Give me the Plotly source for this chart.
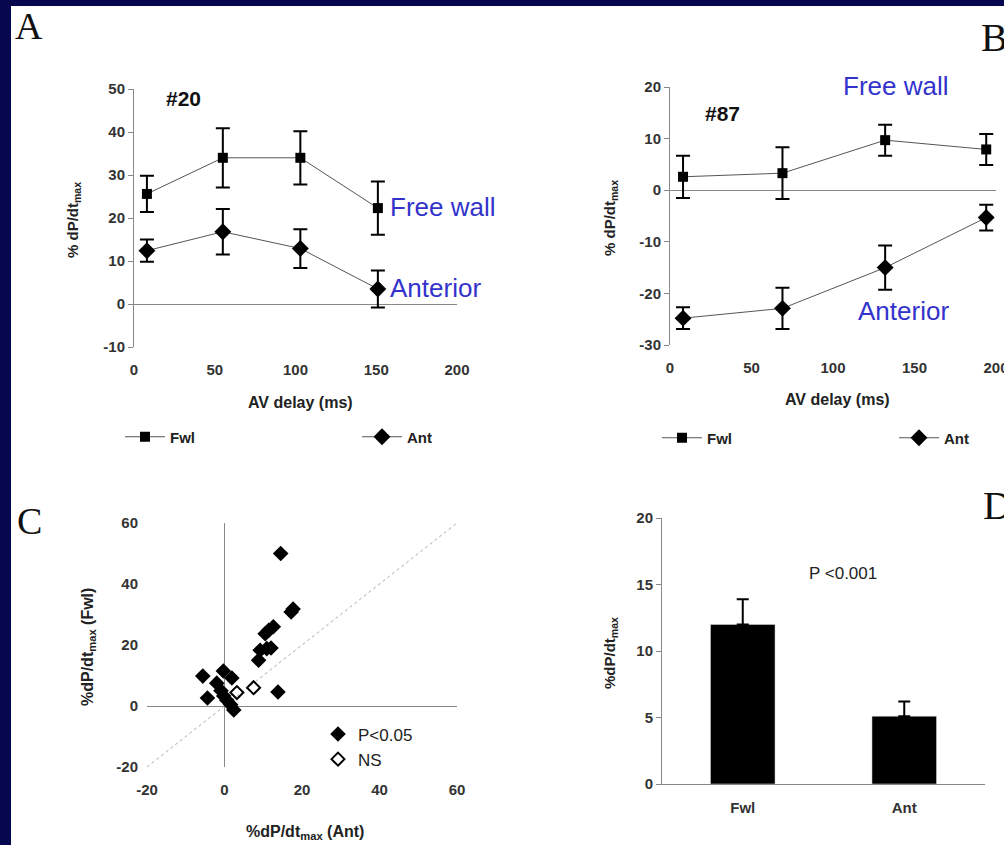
import plotly.graph_objects as go

# ---------------- data ----------------
# Panel A (#20)
A_delay = [8, 55, 103, 151]
A_fwl = [25.6, 34.0, 34.0, 22.3]
A_fwl_err = [4.2, 6.9, 6.2, 6.2]
A_ant = [12.4, 16.8, 12.9, 3.5]
A_ant_err = [2.6, 5.3, 4.5, 4.3]
A_yticks = [-10, 0, 10, 20, 30, 40, 50]

# Panel B (#87)
B_delay = [8, 69, 132, 194]
B_fwl = [2.6, 3.3, 9.7, 7.9]
B_fwl_err = [4.1, 5.0, 3.0, 3.0]
B_ant = [-24.8, -22.9, -15.0, -5.3]
B_ant_err = [2.1, 4.0, 4.3, 2.5]
B_yticks = [-30, -20, -10, 0, 10, 20]

AV_ticks = [0, 50, 100, 150, 200]

# Panel C scatter (Ant on x, Fwl on y)
C_sig_ant = [14.5, 17.2, 17.7, 11.4, 12.6, 10.5, 9.2, 10.9, 8.8, 12.0, 13.8,
             -5.6, -4.4, -0.3, 1.9, -2.0, -0.9, -0.2, 0.6, 1.6, 2.4]
C_sig_fwl = [50.0, 30.8, 31.8, 24.8, 26.0, 23.7, 18.3, 18.8, 15.0, 19.0, 4.6,
             9.8, 2.6, 11.5, 9.2, 7.5, 5.0, 3.3, 1.9, 0.4, -1.3]
C_ns_ant = [7.5, 3.2]
C_ns_fwl = [6.0, 4.4]
C_identity = [-20, 60]
C_ticks = [-20, 0, 20, 40, 60]

# Panel D bars
D_cats = ["Fwl", "Ant"]
D_vals = [12.0, 5.1]
D_err = [1.9, 1.1]

# ---------------- helpers ----------------
W, H = 1004, 845


def px(x):
    return x / W


def py(y):
    return 1 - y / H


def labels(vals):
    return [str(v) for v in vals]  # plain hyphen-minus, as in the original


FONT = "Liberation Sans, Arial, sans-serif"
SERIF = "Liberation Serif, Times New Roman, serif"
AX = "#888888"
TXT = "#333333"
BLUE = "#3333CC"
NAVY = "#07074F"
tickfont = dict(family=FONT, size=15, color=TXT, weight="bold")

fig = go.Figure()

# ---- Panel A ----
fig.add_trace(go.Scatter(
    x=A_delay, y=A_fwl, mode="lines+markers", name="Fwl",
    line=dict(color="#555555", width=1),
    marker=dict(symbol="square", size=10, color="black"),
    error_y=dict(type="data", array=A_fwl_err, color="black", thickness=2, width=7),
    xaxis="x", yaxis="y", legend="legend", cliponaxis=False))
fig.add_trace(go.Scatter(
    x=A_delay, y=A_ant, mode="lines+markers", name="Ant",
    line=dict(color="#555555", width=1),
    marker=dict(symbol="diamond", size=13, color="black"),
    error_y=dict(type="data", array=A_ant_err, color="black", thickness=2, width=7),
    xaxis="x", yaxis="y", legend="legend2", cliponaxis=False))

# ---- Panel B ----
fig.add_trace(go.Scatter(
    x=B_delay, y=B_fwl, mode="lines+markers", name="Fwl",
    line=dict(color="#555555", width=1),
    marker=dict(symbol="square", size=10, color="black"),
    error_y=dict(type="data", array=B_fwl_err, color="black", thickness=2, width=7),
    xaxis="x2", yaxis="y2", legend="legend3", cliponaxis=False))
fig.add_trace(go.Scatter(
    x=B_delay, y=B_ant, mode="lines+markers", name="Ant",
    line=dict(color="#555555", width=1),
    marker=dict(symbol="diamond", size=13, color="black"),
    error_y=dict(type="data", array=B_ant_err, color="black", thickness=2, width=7),
    xaxis="x2", yaxis="y2", legend="legend4", cliponaxis=False))

# ---- Panel C ----
fig.add_trace(go.Scatter(
    x=C_identity, y=C_identity, mode="lines", showlegend=False,
    line=dict(color="#AAAAAA", width=1, dash="dot"),
    xaxis="x3", yaxis="y3"))
fig.add_trace(go.Scatter(
    x=C_sig_ant, y=C_sig_fwl, mode="markers", name="P<0.05",
    marker=dict(symbol="diamond", size=12, color="black"),
    xaxis="x3", yaxis="y3", legend="legend5", cliponaxis=False))
fig.add_trace(go.Scatter(
    x=C_ns_ant, y=C_ns_fwl, mode="markers", name="NS",
    marker=dict(symbol="diamond-open", size=10, color="black", line=dict(width=2)),
    xaxis="x3", yaxis="y3", legend="legend5", cliponaxis=False))

# ---- Panel D ----
fig.add_trace(go.Bar(
    x=D_cats, y=D_vals, width=0.4, marker=dict(color="black"), showlegend=False,
    error_y=dict(type="data", array=D_err, arrayminus=[0] * len(D_err), symmetric=False,
                 color="black", thickness=2, width=6),
    xaxis="x4", yaxis="y4"))

# ---------------- axes ----------------
common_x = dict(showgrid=False, zeroline=False, showline=False, ticks="",
                tickfont=tickfont, ticklabeloverflow="allow")

fig.update_layout(
    xaxis=dict(common_x, domain=[px(134), px(457)], range=[0, 200],
               tickvals=AV_ticks, ticktext=labels(AV_ticks), anchor="y",
               ticklabelstandoff=12),
    yaxis=dict(domain=[py(347), py(89)], range=[-10, 50], anchor="x",
               tickvals=A_yticks, ticktext=labels(A_yticks),
               showgrid=False, showline=True, linecolor=AX, linewidth=1,
               ticks="outside", ticklen=5, tickcolor=AX, tickfont=tickfont,
               zeroline=True, zerolinecolor=AX, zerolinewidth=1),
    xaxis2=dict(common_x, domain=[px(670), px(996)], range=[0, 200],
                tickvals=AV_ticks, ticktext=labels(AV_ticks), anchor="y2",
                ticklabelstandoff=12),
    yaxis2=dict(domain=[py(345), py(87)], range=[-30, 20], anchor="x2",
                tickvals=B_yticks, ticktext=labels(B_yticks),
                showgrid=False, showline=True, linecolor=AX, linewidth=1,
                ticks="outside", ticklen=5, tickcolor=AX, tickfont=tickfont,
                zeroline=True, zerolinecolor=AX, zerolinewidth=1),
    xaxis3=dict(domain=[px(147), px(457)], range=[-20, 60], anchor="y3",
                tickvals=C_ticks, ticktext=labels(C_ticks),
                showgrid=False, showline=False, ticks="", tickfont=tickfont,
                zeroline=True, zerolinecolor=AX, zerolinewidth=1, ticklabelstandoff=12),
    yaxis3=dict(domain=[py(767), py(523)], range=[-20, 60], anchor="x3",
                tickvals=C_ticks, ticktext=labels(C_ticks),
                showgrid=False, showline=False, ticks="", tickfont=tickfont,
                zeroline=True, zerolinecolor=AX, zerolinewidth=1, ticklabelstandoff=8),
    xaxis4=dict(domain=[px(662), px(985)], anchor="y4", showgrid=False,
                showline=True, linecolor=AX, linewidth=1, ticks="",
                tickfont=tickfont, ticklabelstandoff=10),
    yaxis4=dict(domain=[py(784), py(518)], range=[0, 20], dtick=5, anchor="x4",
                showgrid=False, showline=True, linecolor=AX, linewidth=1,
                ticks="outside", ticklen=5, tickcolor=AX, tickfont=tickfont,
                zeroline=False),
)

# ---------------- legends ----------------
legfont = dict(family=FONT, size=15, color="#222222", weight="bold")
base_leg = dict(orientation="h", xanchor="left", yanchor="middle",
                bgcolor="rgba(0,0,0,0)", font=legfont, itemwidth=40)
fig.update_layout(
    legend=dict(base_leg, x=px(120), y=py(437)),
    legend2=dict(base_leg, x=px(357), y=py(437)),
    legend3=dict(base_leg, x=px(657), y=py(438)),
    legend4=dict(base_leg, x=px(894), y=py(438)),
    legend5=dict(orientation="v", xanchor="left", yanchor="middle",
                 x=px(318), y=py(747), bgcolor="rgba(0,0,0,0)",
                 font=dict(family=FONT, size=17, color="#222222"),
                 itemwidth=30, tracegroupgap=0),
)

# ---------------- annotations ----------------
ann = []


def add(text, x, y, size, color="#111111", family=FONT, xanchor="center",
        yanchor="middle", angle=0):
    ann.append(dict(text=text, x=px(x), y=py(y), xref="paper", yref="paper",
                    showarrow=False, xanchor=xanchor, yanchor=yanchor,
                    textangle=angle, font=dict(family=family, size=size, color=color)))


add("A", 29, 26, 38, family=SERIF)
add("B", 979, 37, 40, family=SERIF, xanchor="left")
add("C", 29, 521, 38, family=SERIF)
add("D", 981, 505, 40, family=SERIF, xanchor="left")

add("<b>#20</b>", 183, 98, 21)
add("<b>#87</b>", 722, 113, 21)

add("Free wall", 388, 207, 26, color=BLUE, xanchor="left")
add("Anterior", 388, 288, 26, color=BLUE, xanchor="left")
add("Free wall", 841, 86, 26, color=BLUE, xanchor="left")
add("Anterior", 856, 311, 26, color=BLUE, xanchor="left")

add("<b>AV delay (ms)</b>", 300, 402, 16, color="#222222")
add("<b>AV delay (ms)</b>", 837, 399, 16, color="#222222")

add("<b>% dP/dt<sub>max</sub></b>", 73, 220, 15, color="#222222", angle=-90)
add("<b>% dP/dt<sub>max</sub></b>", 610, 218, 15, color="#222222", angle=-90)
add("<b>%dP/dt<sub>max</sub> (Fwl)</b>", 88, 647, 16, color="#222222", angle=-90)
add("<b>%dP/dt<sub>max</sub></b>", 610, 653, 15, color="#222222", angle=-90)
add("<b>%dP/dt<sub>max</sub> (Ant)</b>", 305, 832, 16, color="#222222")

add("P <0.001", 843, 573, 17, color="#222222")

fig.update_layout(annotations=ann)

# ---------------- background ----------------
fig.update_layout(
    shapes=[
        dict(type="rect", xref="paper", yref="paper", x0=px(11), x1=1, y0=0, y1=py(6),
             fillcolor="white", line=dict(width=0), layer="below"),
    ],
    width=W, height=H,
    margin=dict(l=0, r=0, t=0, b=0, pad=0, autoexpand=False),
    paper_bgcolor=NAVY, plot_bgcolor="white",
    font=dict(family=FONT, color=TXT),
)

fig.write_html("out.html")
